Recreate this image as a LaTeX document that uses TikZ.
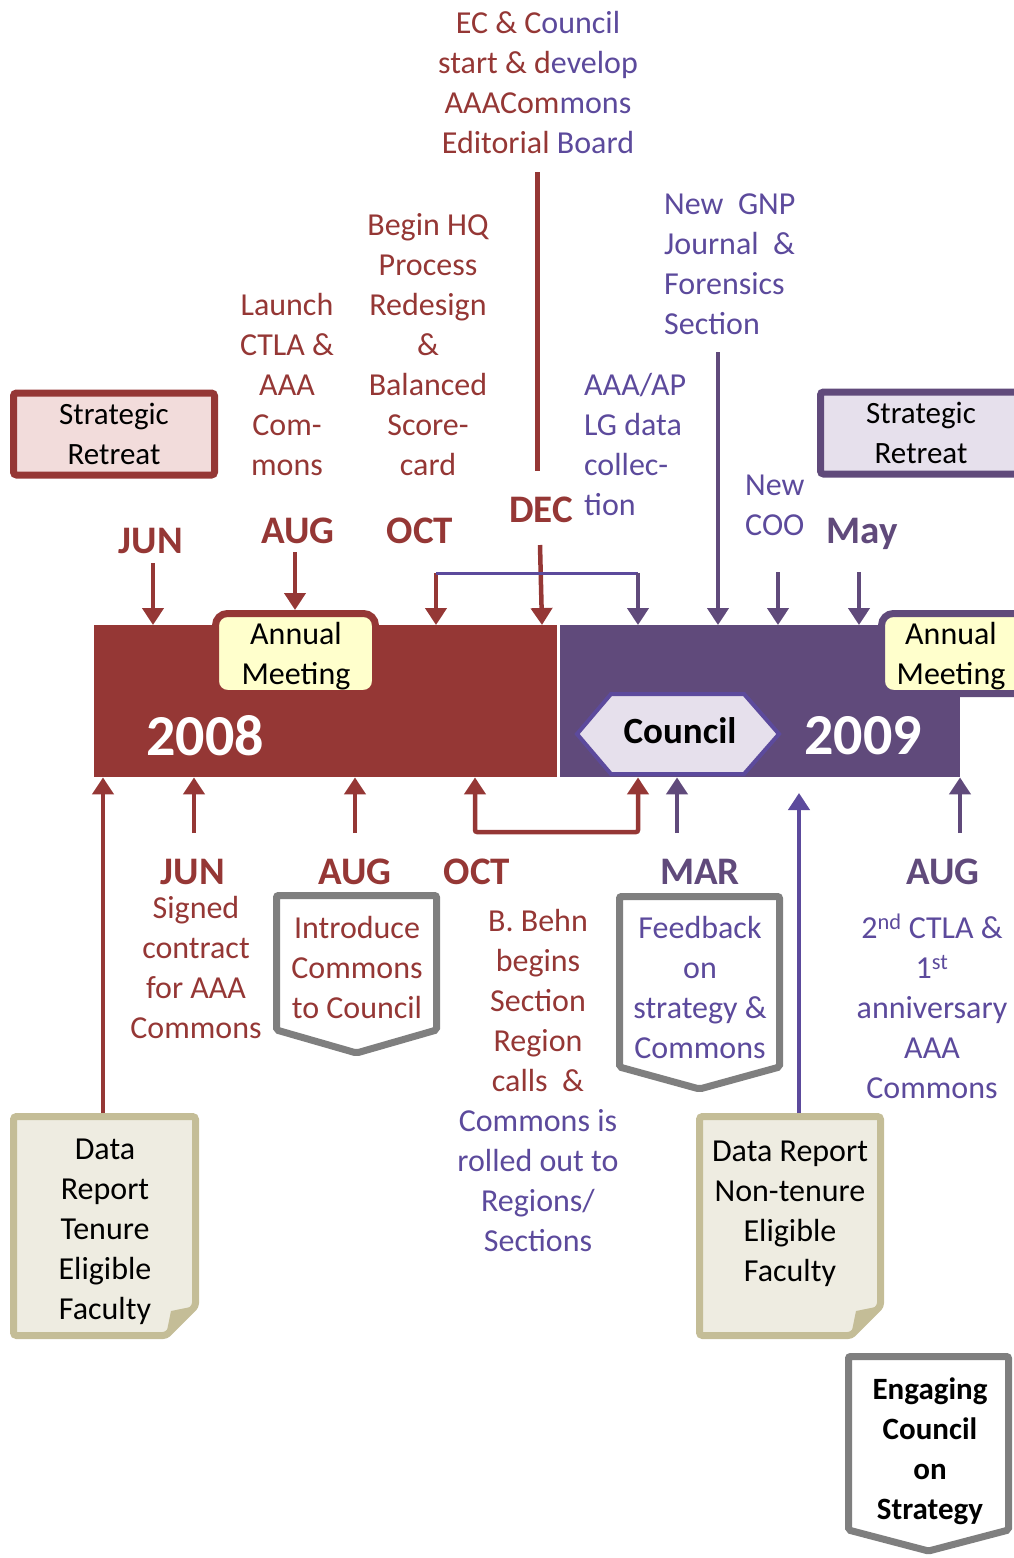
\documentclass[tikz,border=0pt]{standalone}
\usepackage{fontspec}
\setmainfont{Carlito}
\usetikzlibrary{arrows.meta,positioning}

\definecolor{tlred}{HTML}{953735}
\definecolor{tlpurp}{HTML}{604A7B}
\definecolor{tlviolet}{HTML}{5C4A9C}
\definecolor{pinkfill}{HTML}{F2DCDB}
\definecolor{lavfill}{HTML}{E6E0EC}
\definecolor{meetfill}{HTML}{FFFFCC}
\definecolor{tanline}{HTML}{C4BD97}
\definecolor{tanfill}{HTML}{EEECE1}
\definecolor{shieldgray}{HTML}{7F7F7F}

\begin{document}
\begin{tikzpicture}[x=1pt, y=-1pt,
  >={Triangle[width=21pt,length=17pt]},
  txt/.style={font=\fontsize{32}{40}\selectfont, align=center, inner sep=0pt},
  redtxt/.style={txt, text=tlred},
  purtxt/.style={txt, text=tlviolet},
  month/.style={font=\bfseries\fontsize{39}{44}\selectfont, inner sep=0pt, text depth=0pt},
  yeartxt/.style={font=\bfseries\fontsize{58}{64}\selectfont, text=white, inner sep=0pt},
  redline/.style={draw=tlred, line width=4.5pt},
  purline/.style={draw=tlpurp, line width=4.5pt},
  retreat/.style={line width=7pt, rounded corners=3pt, minimum width=201pt, minimum height=82pt, txt, font=\fontsize{31}{40}\selectfont},
  meeting/.style={draw=#1, line width=7pt, fill=meetfill, rounded corners=12pt, minimum width=160pt, minimum height=80pt},
  shield/.style={draw=shieldgray, fill=white, line width=7pt, rounded corners=2pt},
  notepage/.style={draw=tanline, fill=tanfill, line width=7pt, rounded corners=3pt}]

\useasboundingbox (0,0) rectangle (1014,1558);

% the two year bars
\node[fill=tlred, minimum width=463pt, minimum height=152pt, anchor=north west, inner sep=0pt] (y08) at (94,625) {};
\node[fill=tlpurp, minimum width=400pt, minimum height=152pt, anchor=north west, inner sep=0pt] (y09) at (560,625) {};
\node[yeartxt] (yr08) at (205,736) {2008};
\node[yeartxt] (yr09) at (863,736) {2009};

% annual meetings
\node[meeting=tlred] (am08) at (295.5,653.5) {};
\node[txt] (am08txt) at (296,656) {Annual\\Meeting};
\node[meeting=tlpurp] (am09) at (961.5,653.5) {};
\node[txt] (am09txt) at (951,656) {Annual\\Meeting};

% council hexagon
\draw[tlviolet, fill=lavfill, line width=4pt] (577,734) -- (611,694) -- (744,694) -- (779,734) -- (744,774) -- (611,774) -- cycle;
\node[font=\bfseries\fontsize{37}{40}\selectfont, inner sep=0pt] (council) at (680,731) {Council};

% strategic retreats
\node[retreat, draw=tlred, fill=pinkfill] (sr08) at (114,434) {Strategic\\Retreat};
\node[retreat, draw=tlpurp, fill=lavfill] (sr09) at (921,433) {Strategic\\Retreat};

% texts above the bars
\node[txt] (ec) at (538,83) {\textcolor{tlred}{EC \& C}\textcolor{tlviolet}{ouncil}\\
  \textcolor{tlred}{start \& d}\textcolor{tlviolet}{evelop}\\
  \textcolor{tlred}{AAACom}\textcolor{tlviolet}{mons}\\
  \textcolor{tlred}{Editorial }\textcolor{tlviolet}{Board}};
\node[redtxt] (ctla) at (287,385) {Launch\\CTLA \&\\AAA\\Com-\\mons};
\node[redtxt] (hq) at (428,345) {Begin HQ\\Process\\Redesign\\\&\\Balanced\\Score-\\card};
\node[purtxt, align=left, anchor=west] (gnp) at (664,264) {New\ \ GNP\\Journal\ \ \&\\Forensics\\Section};
\node[purtxt, align=left, anchor=west] (lg) at (584,445) {AAA/AP\\LG data\\collec-\\tion};
\node[purtxt, align=left, anchor=west] (coo) at (745,505) {New\\COO};

% months above
\node[month, text=tlred] (jun08) at (151,541) {JUN};
\node[month, text=tlred] (aug08) at (298,531) {AUG};
\node[month, text=tlred] (oct08) at (420,531) {OCT};
\node[month, text=tlred] (dec08) at (541,510) {DEC};
\node[month, text=tlpurp] (may09) at (862,531) {May};

% months below
\node[month, text=tlred] (jun08b) at (193,872) {JUN};
\node[month, text=tlred] (aug08b) at (355,872) {AUG};
\node[month, text=tlred] (oct08b) at (477,872) {OCT};
\node[month, text=tlpurp] (mar09) at (700,872) {MAR};
\node[month, text=tlpurp] (aug09) at (943,872) {AUG};

% texts below the bars
\node[redtxt] (signed) at (196,967) {Signed\\contract\\for AAA\\Commons};
\draw[shield] (276.5,895.5) -- (436.5,895.5) -- (436.5,1030) -- (356.5,1053) -- (276.5,1030) -- cycle;
\node[redtxt] (intro) at (357,967) {Introduce\\Commons\\to Council};
\node[txt] (behn) at (538,1080) {\textcolor{tlred}{B. Behn}\\\textcolor{tlred}{begins}\\
  \textcolor{tlred}{Section}\\\textcolor{tlred}{Region}\\\textcolor{tlred}{calls\ \ \&}\\
  \textcolor{tlviolet}{Commons is}\\\textcolor{tlviolet}{rolled out to}\\
  \textcolor{tlviolet}{Regions/}\\\textcolor{tlviolet}{Sections}};
\draw[shield] (619.5,896.5) -- (779.5,896.5) -- (779.5,1067) -- (699.5,1089) -- (619.5,1067) -- cycle;
\node[purtxt] (feedback) at (700,987) {Feedback\\on\\strategy \&\\Commons};
\node[purtxt] (anniv) at (932,1006) {2\textsuperscript{nd} CTLA \&\\1\textsuperscript{st}\\anniversary\\AAA\\Commons};

% data reports
\draw[notepage] (13.5,1116.5) -- (195.5,1116.5) -- (195.5,1306) -- (166,1335.5) -- (13.5,1335.5) -- cycle;
\fill[tanline] (166,1335.5) -- (171,1311) -- (195.5,1306) -- cycle;
\node[txt] (dr08) at (105,1232) {Data\\Report\\Tenure\\Eligible\\Faculty};
\draw[notepage] (699.5,1116.5) -- (880.5,1116.5) -- (880.5,1306) -- (851,1335.5) -- (699.5,1335.5) -- cycle;
\fill[tanline] (851,1335.5) -- (856,1311) -- (880.5,1306) -- cycle;
\node[txt] (dr09) at (790,1214) {Data Report\\Non-tenure\\Eligible\\Faculty};

% engaging council
\draw[shield] (848.5,1356.5) -- (1008.5,1356.5) -- (1008.5,1530) -- (928.5,1551) -- (848.5,1530) -- cycle;
\node[txt, font=\bfseries\fontsize{31}{40}\selectfont] (engage) at (930,1451) {Engaging\\Council\\on\\Strategy};

% connectors above
\coordinate (ec-s) at (537,172);
\coordinate (ec-e) at (537,471);
\draw[redline, line width=5pt] (ec-s) -- (ec-e);
\foreach \n/\x/\y in {jun/153/563, oct/436/573} {
  \coordinate (t-\n) at (\x,\y);
  \draw[redline,->] (t-\n) -- (t-\n |- y08.north);
}
\coordinate (t-aug) at (295,552);
\draw[redline,->] (t-aug) -- (t-aug |- am08.north);
\coordinate (t-dec) at (540,545);
\draw[redline,->] (t-dec) -- ([xshift=2pt]t-dec |- y08.north);
\coordinate (t-dev) at (638,573);
\draw[draw=tlviolet, line width=3pt] (t-oct) -- (t-dev);
\draw[purline,->] (t-dev) -- (t-dev |- y09.north);
\foreach \n/\x/\y in {gnp/718/352, coo/778/572, may/859/572} {
  \coordinate (t-\n) at (\x,\y);
  \draw[purline,->] (t-\n) -- (t-\n |- y09.north);
}

% connectors below
\foreach \n/\x/\y in {ten/103/1113, jun/194/833, aug/355/833} {
  \coordinate (b-\n) at (\x,\y);
  \draw[redline,->] (b-\n) -- (b-\n |- y08.south);
}
\coordinate (b-oct) at (475,832);
\coordinate (b-jan) at (638,832);
\draw[redline,<->, rounded corners=2pt] (b-oct |- y08.south) -- (b-oct) -- (b-jan) -- (b-jan |- y09.south);
\foreach \n/\x/\y in {mar/677/833, aug/960/833} {
  \coordinate (b-\n) at (\x,\y);
  \draw[purline,->] (b-\n) -- (b-\n |- y09.south);
}
\coordinate (b-ntr) at (799,1113);
\coordinate (b-gap) at (799,793);
\draw[purline, draw=tlviolet, ->] (b-ntr) -- (b-gap);

\end{tikzpicture}
\end{document}
